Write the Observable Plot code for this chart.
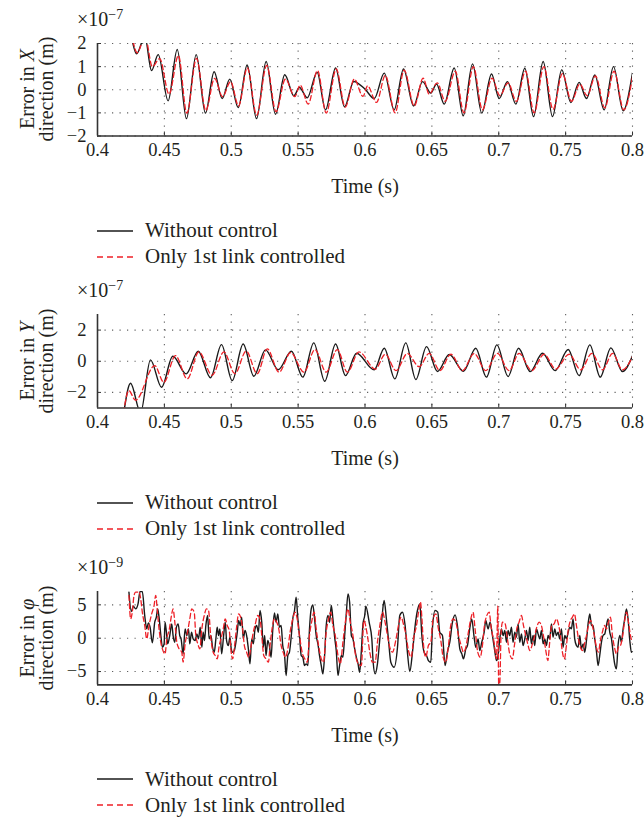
<!DOCTYPE html>
<html>
<head>
<meta charset="utf-8">
<script src="https://cdn.jsdelivr.net/npm/d3@7"></script>
<script src="https://cdn.jsdelivr.net/npm/@observablehq/plot@0.6"></script>
<style>
  html, body { margin: 0; padding: 0; background: #fff; }
  body { width: 644px; height: 822px; position: relative; overflow: hidden;
         font-family: "Liberation Serif", "DejaVu Serif", serif; color: #231f20; }
  .abs { position: absolute; }
  .ylab { position: absolute; width: 220px; text-align: center; font-size: 20px; line-height: 19px;
          transform: translate(-50%, -50%) rotate(-90deg); white-space: nowrap; }
  .expo { position: absolute; font-size: 20px; line-height: 20px; white-space: nowrap; }
  .expo sup { font-size: 14px; position: relative; top: -4px; vertical-align: top; }
  .leg { position: absolute; left: 97px; font-size: 21px; white-space: nowrap; }
  .leg .row { position: absolute; left: 0; height: 22px; display: flex; align-items: center; }
  .leg svg { margin-right: 12px; }
</style>
</head>
<body>
<script>
// ---------- data ----------
const xTicks = [0.4, 0.45, 0.5, 0.55, 0.6, 0.65, 0.7, 0.75, 0.8];
const seriesNames = ["Without control", "Only 1st link controlled"];

const yTicksX = [-2, -1, 0, 1, 2];
const yTicksY = [-2, 0, 2];
const yTicksPhi = [-5, 0, 5];

// Error in X direction (×1e-7 m): [time s, value]
const xWithout = [[0.4262,2.06],[0.4292,1.55],[0.4354,2.3],[0.4404,0.83],[0.4454,1.52],[0.4528,-0.48],[0.4596,1.74],[0.4665,-1.25],[0.4738,1.52],[0.4807,-1.01],[0.4872,0.78],[0.4932,-0.38],[0.4989,0.46],[0.5052,-0.77],[0.5119,1.07],[0.5189,-1.25],[0.5261,1.22],[0.5331,-1.06],[0.54,0.65],[0.5468,-0.26],[0.551,0.1],[0.5568,-0.35],[0.5642,0.75],[0.5705,-0.87],[0.578,0.94],[0.5847,-0.74],[0.5916,0.36],[0.5999,0.03],[0.6069,-0.38],[0.6144,0.72],[0.6218,-0.87],[0.6288,0.9],[0.6363,-0.7],[0.643,0.35],[0.6492,-0.14],[0.6535,0.25],[0.6592,-0.62],[0.6667,0.94],[0.6734,-1.13],[0.6804,1.12],[0.6873,-1.01],[0.6946,0.68],[0.7003,-0.38],[0.7065,0.35],[0.7128,-0.62],[0.7195,0.93],[0.726,-1.16],[0.7332,1.22],[0.7402,-1.16],[0.7471,0.86],[0.7539,-0.55],[0.7601,0.32],[0.7656,-0.38],[0.7718,0.64],[0.7788,-0.87],[0.7858,1.0],[0.793,-0.91],[0.8,0.73]];
const xControlled = [[0.4265,2.1],[0.4297,1.6],[0.4356,2.3],[0.441,1.0],[0.4465,1.35],[0.4535,-0.19],[0.4605,1.48],[0.4668,-1.01],[0.474,1.36],[0.481,-0.9],[0.4875,0.49],[0.4935,-0.3],[0.4995,0.35],[0.5055,-0.7],[0.512,0.95],[0.519,-1.1],[0.5265,1.05],[0.5335,-0.95],[0.5405,0.46],[0.5475,-0.3],[0.5515,0.2],[0.5575,-0.62],[0.5645,0.83],[0.571,-1.01],[0.5785,0.9],[0.5852,-0.75],[0.592,0.46],[0.5985,-0.29],[0.6019,0.17],[0.6086,-0.55],[0.6152,0.62],[0.6225,-1.0],[0.6293,0.85],[0.6368,-0.7],[0.6435,0.5],[0.648,-0.19],[0.654,0.3],[0.66,-0.5],[0.6675,0.8],[0.674,-1.0],[0.681,1.0],[0.6878,-0.87],[0.695,0.5],[0.7008,-0.25],[0.707,0.3],[0.7132,-0.5],[0.72,0.8],[0.7265,-1.0],[0.7337,1.0],[0.7406,-0.85],[0.7476,0.7],[0.7544,-0.5],[0.7606,0.25],[0.7661,-0.26],[0.7723,0.6],[0.7793,-0.78],[0.7862,0.8],[0.7935,-0.87],[0.8,0.55]];

// Error in Y direction (×1e-7 m)
const yWithout = [[0.4195,-3.4],[0.4247,-1.41],[0.4322,-3.3],[0.4396,0.09],[0.4479,-1.67],[0.4563,0.32],[0.4663,-0.81],[0.4753,0.64],[0.4845,-1.06],[0.4927,1.07],[0.5007,-1.24],[0.5089,1.11],[0.5169,-0.96],[0.5256,0.73],[0.5351,-0.55],[0.545,0.64],[0.5535,-1.02],[0.5617,1.18],[0.5699,-1.28],[0.578,1.11],[0.5854,-0.92],[0.5937,0.51],[0.6069,-0.55],[0.6144,0.83],[0.6223,-1.13],[0.6305,1.18],[0.638,-1.17],[0.646,0.94],[0.6542,-0.66],[0.663,0.43],[0.6736,-0.64],[0.6828,0.83],[0.6908,-1.02],[0.6986,1.05],[0.707,-0.98],[0.7148,0.83],[0.7235,-0.66],[0.7327,0.51],[0.7422,-0.6],[0.7519,0.75],[0.7601,-0.92],[0.7681,1.05],[0.7759,-1.02],[0.7838,0.86],[0.7925,-0.66],[0.8,0.35]];
const yControlled = [[0.4195,-3.3],[0.4234,-1.88],[0.4284,-2.5],[0.4428,-0.28],[0.4496,-1.35],[0.4583,0.36],[0.4671,-1.13],[0.4758,0.6],[0.4857,-0.9],[0.4945,0.6],[0.5027,-0.8],[0.5112,0.65],[0.5194,-0.8],[0.5269,0.8],[0.5357,-0.7],[0.5444,0.55],[0.5544,-0.7],[0.5626,0.75],[0.571,-0.7],[0.5793,0.75],[0.5868,-0.7],[0.5955,0.6],[0.6077,-0.5],[0.6152,0.45],[0.6232,-0.6],[0.6317,0.5],[0.6405,-0.35],[0.648,0.5],[0.656,-0.6],[0.6642,0.45],[0.6729,-0.6],[0.6816,0.5],[0.6903,-0.6],[0.699,0.5],[0.7077,-0.6],[0.7152,0.5],[0.7247,-0.6],[0.7339,0.45],[0.7426,-0.5],[0.7526,0.45],[0.7613,-0.55],[0.7696,0.5],[0.7776,-0.55],[0.7851,0.5],[0.7925,-0.55],[0.8,0.3]];

// Error in phi direction (×1e-9 m)
const phiWithout = [[0.4235,6.9],[0.4253,4.0],[0.4268,4.8],[0.4285,4.4],[0.4303,5.15],[0.4318,7.0],[0.4335,7.0],[0.4353,3.4],[0.4368,1.4],[0.438,2.3],[0.4393,1.65],[0.441,-0.7],[0.4428,2.4],[0.444,3.15],[0.445,4.4],[0.446,3.15],[0.4475,0.15],[0.4485,-1.35],[0.4498,-0.85],[0.4505,2.4],[0.4515,0.9],[0.4525,-0.85],[0.454,0.4],[0.4555,2.15],[0.4565,0.4],[0.4578,-0.6],[0.459,1.65],[0.4603,2.15],[0.4615,0.4],[0.4625,-0.1],[0.464,-2.35],[0.4655,1.4],[0.4668,0.4],[0.468,1.4],[0.469,-0.85],[0.4703,0.9],[0.4715,-0.1],[0.473,-0.35],[0.4743,0.65],[0.4755,-0.1],[0.4768,1.65],[0.478,-1.35],[0.479,0.9],[0.48,-0.35],[0.481,1.9],[0.4823,3.4],[0.4835,-0.1],[0.4848,0.4],[0.486,-1.35],[0.4873,-2.1],[0.4885,-0.1],[0.4895,1.65],[0.4905,0.4],[0.4915,1.4],[0.4928,-2.35],[0.4943,0.4],[0.4955,2.4],[0.4965,-0.35],[0.4978,-1.1],[0.499,0.15],[0.5,-1.6],[0.501,-2.1],[0.5023,-1.85],[0.5033,-0.85],[0.5045,0.9],[0.5055,2.65],[0.5068,1.9],[0.5078,3.15],[0.509,-0.1],[0.5103,1.15],[0.5115,0.4],[0.5128,-1.6],[0.514,-3.85],[0.5153,-0.1],[0.5165,-0.85],[0.5178,1.4],[0.519,1.9],[0.5203,0.9],[0.5215,4.15],[0.5228,2.4],[0.524,-1.35],[0.525,0.4],[0.526,-2.6],[0.5273,-0.35],[0.5285,-1.1],[0.5298,-2.85],[0.531,1.15],[0.5323,3.8],[0.5335,2.4],[0.5348,3.65],[0.536,1.65],[0.5373,1.9],[0.5385,-1.1],[0.5398,-2.35],[0.541,-5.6],[0.5423,-2.6],[0.5435,-2.1],[0.5448,0.15],[0.546,2.9],[0.5473,4.15],[0.5485,6.15],[0.5498,2.9],[0.551,0.4],[0.5523,-2.6],[0.5535,-2.85],[0.5548,-4.1],[0.556,-3.85],[0.5573,-4.1],[0.5585,1.4],[0.5598,4.4],[0.561,5.0],[0.5623,2.9],[0.5635,0.4],[0.5648,-0.85],[0.566,-2.6],[0.5673,-4.1],[0.5685,-5.35],[0.5698,-2.6],[0.571,1.9],[0.5723,3.4],[0.5735,2.4],[0.5748,4.9],[0.576,2.9],[0.5773,0.15],[0.5785,-1.85],[0.5798,-5.6],[0.581,-4.1],[0.5823,-2.6],[0.5835,-2.85],[0.5848,0.4],[0.586,3.65],[0.5873,6.65],[0.5885,5.4],[0.5898,0.4],[0.591,-0.1],[0.5923,-1.6],[0.5935,-2.85],[0.5948,-3.85],[0.596,-5.1],[0.5973,-1.85],[0.5985,2.15],[0.5998,3.4],[0.6006,4.8],[0.6031,2.4],[0.6051,-0.1],[0.6061,-3.6],[0.6076,-5.35],[0.6093,-3.85],[0.6111,-0.1],[0.6126,2.9],[0.6143,5.65],[0.616,2.9],[0.6175,-0.1],[0.6193,-3.6],[0.6218,-4.35],[0.6243,-1.35],[0.626,3.4],[0.628,3.9],[0.63,1.9],[0.6317,-2.1],[0.6335,-5.0],[0.6355,-2.1],[0.6375,1.9],[0.6392,4.15],[0.641,5.15],[0.6425,0.4],[0.6442,-2.1],[0.646,-2.6],[0.6474,-3.35],[0.6492,-3.6],[0.6504,1.4],[0.6524,4.15],[0.6544,3.9],[0.6559,0.9],[0.6579,0.4],[0.6599,-4.1],[0.6616,-2.1],[0.6634,-0.6],[0.6654,2.4],[0.6674,3.5],[0.6691,1.9],[0.6709,-1.6],[0.6724,-2.35],[0.6736,-3.1],[0.6754,-1.6],[0.6766,-1.1],[0.6783,1.4],[0.6798,2.9],[0.6816,0.15],[0.6828,-1.35],[0.6846,-0.1],[0.6858,-1.85],[0.6873,-0.6],[0.6891,0.9],[0.6903,2.65],[0.692,1.4],[0.6935,2.4],[0.6953,0.4],[0.697,-1.85],[0.6983,-3.35],[0.6995,-2.6],[0.7008,-0.1],[0.702,1.4],[0.7033,0.4],[0.7045,1.15],[0.7058,-0.6],[0.707,1.15],[0.7082,0.4],[0.7095,1.65],[0.7107,-0.6],[0.712,0.9],[0.7132,0.15],[0.7145,2.15],[0.7157,-0.6],[0.717,0.65],[0.7182,-1.1],[0.7195,-0.1],[0.7207,1.15],[0.722,-0.35],[0.7232,1.65],[0.7244,-0.85],[0.7257,0.4],[0.7269,-1.1],[0.7282,1.4],[0.7294,0.65],[0.7307,-0.1],[0.7319,1.15],[0.7332,-0.85],[0.7344,-0.1],[0.7357,-1.1],[0.7369,0.4],[0.7381,-0.1],[0.7394,2.15],[0.7406,0.15],[0.7419,1.4],[0.7431,0.4],[0.7444,0.9],[0.7456,-0.1],[0.7469,1.4],[0.7481,-1.35],[0.7494,0.4],[0.7506,-0.1],[0.7519,0.9],[0.7531,1.65],[0.7543,1.4],[0.7556,2.9],[0.7568,-0.1],[0.7581,-1.1],[0.7593,-1.35],[0.7606,0.4],[0.7618,-1.6],[0.7631,-0.85],[0.7643,-2.1],[0.7656,-0.35],[0.7668,2.15],[0.7681,3.65],[0.7693,1.9],[0.7705,1.9],[0.7718,-0.1],[0.773,-1.85],[0.7743,-4.1],[0.7755,-2.6],[0.7768,-0.6],[0.778,0.4],[0.7793,0.65],[0.7805,1.9],[0.7818,2.9],[0.783,0.9],[0.7843,-0.1],[0.7855,-2.1],[0.7867,-3.85],[0.788,-4.6],[0.7892,-1.1],[0.7905,0.4],[0.7917,-0.6],[0.793,1.4],[0.7942,2.9],[0.7955,4.4],[0.7967,2.9],[0.798,-0.35],[0.7992,-2.1],[0.8005,-1.85]];
const phiControlled = [[0.4235,6.4],[0.4248,2.9],[0.426,3.9],[0.4273,6.4],[0.4285,6.9],[0.4298,6.9],[0.431,7.0],[0.4323,5.9],[0.4335,3.9],[0.4353,1.9],[0.4368,-0.1],[0.4385,1.9],[0.4405,3.65],[0.4423,4.9],[0.4435,6.4],[0.4448,3.9],[0.446,1.4],[0.4473,-0.6],[0.4485,-1.6],[0.4505,-2.35],[0.4518,-0.1],[0.4535,1.15],[0.4553,3.4],[0.4565,4.4],[0.4578,2.4],[0.4593,-0.6],[0.461,-1.6],[0.463,-2.1],[0.464,-3.6],[0.4655,-0.85],[0.4673,0.9],[0.469,2.9],[0.4705,4.4],[0.4723,3.9],[0.4735,0.4],[0.475,-0.85],[0.4765,-1.6],[0.478,1.4],[0.4798,3.4],[0.4815,4.4],[0.483,4.15],[0.4848,-0.1],[0.4865,-2.1],[0.488,-2.6],[0.4895,-3.1],[0.491,-1.1],[0.4923,-0.1],[0.494,1.4],[0.4955,2.9],[0.497,1.9],[0.4985,1.15],[0.4998,-1.85],[0.501,-3.1],[0.5025,-1.1],[0.504,1.65],[0.5055,3.65],[0.507,3.15],[0.5085,1.4],[0.5098,-1.1],[0.5115,-2.1],[0.513,-2.85],[0.5145,-1.6],[0.516,0.4],[0.518,2.15],[0.5198,3.4],[0.5215,2.9],[0.5228,0.4],[0.5243,-2.6],[0.526,-3.1],[0.5278,-3.6],[0.529,-1.1],[0.5305,1.4],[0.5323,2.9],[0.534,2.4],[0.5355,1.4],[0.5373,-1.1],[0.5388,-2.1],[0.5405,-2.85],[0.5423,-1.6],[0.544,0.9],[0.546,2.9],[0.5478,3.9],[0.5493,2.9],[0.551,0.4],[0.553,-2.1],[0.555,-3.1],[0.5568,-3.6],[0.5585,0.4],[0.5603,2.65],[0.562,3.9],[0.5635,1.4],[0.5653,-1.1],[0.5673,-3.1],[0.569,-3.6],[0.571,0.9],[0.5728,2.9],[0.5743,3.9],[0.576,1.9],[0.5778,0.4],[0.5798,-2.6],[0.5815,-3.85],[0.5835,-0.6],[0.5853,2.4],[0.5873,4.4],[0.589,2.4],[0.591,0.4],[0.593,-2.6],[0.595,-3.85],[0.5973,-4.1],[0.5991,2.65],[0.6018,0.4],[0.6036,-2.1],[0.6056,-3.6],[0.6076,-3.6],[0.6093,-0.6],[0.6111,1.9],[0.6131,3.9],[0.6148,2.65],[0.6168,0.4],[0.6185,-1.35],[0.6205,-2.1],[0.623,-0.35],[0.625,1.9],[0.627,3.15],[0.629,1.9],[0.6305,0.65],[0.6325,-1.85],[0.6345,-2.85],[0.6365,0.15],[0.6385,1.9],[0.64,3.9],[0.6415,5.4],[0.6425,3.15],[0.6437,-0.85],[0.6454,-2.85],[0.6474,-1.1],[0.6492,-0.6],[0.6509,2.9],[0.6529,3.65],[0.6549,1.4],[0.6567,-0.35],[0.6584,-2.85],[0.6604,-3.6],[0.6624,-1.1],[0.6641,1.9],[0.6659,2.9],[0.6679,2.4],[0.6699,0.4],[0.6719,-1.1],[0.6736,-2.1],[0.6754,-1.35],[0.6773,0.9],[0.6791,2.9],[0.6808,3.9],[0.6823,1.4],[0.6843,-2.1],[0.6861,-2.85],[0.6878,-1.1],[0.6893,1.9],[0.6911,3.4],[0.6928,3.9],[0.6945,1.4],[0.6965,-0.6],[0.6983,-3.1],[0.6993,4.8],[0.7,-7.5],[0.7008,-6.6],[0.7018,0.9],[0.7028,2.4],[0.7048,2.15],[0.7065,-0.1],[0.7082,-2.35],[0.7102,-3.1],[0.7117,-1.1],[0.7135,1.4],[0.7152,2.4],[0.717,3.4],[0.7185,1.9],[0.7202,0.4],[0.7217,-0.85],[0.7232,-1.85],[0.7252,-0.85],[0.7269,0.4],[0.7284,1.65],[0.7302,2.4],[0.7319,1.9],[0.7334,0.4],[0.7352,-1.85],[0.7367,-3.35],[0.7381,-0.6],[0.7396,1.9],[0.7414,2.15],[0.7431,2.9],[0.7446,2.15],[0.7461,0.4],[0.7476,-2.1],[0.7491,-3.1],[0.7506,-1.1],[0.7521,1.4],[0.7536,2.65],[0.7551,3.15],[0.7566,3.65],[0.7581,1.9],[0.7596,-0.1],[0.7611,-1.35],[0.7626,-1.85],[0.7641,-0.85],[0.7656,0.4],[0.7671,1.9],[0.7686,2.65],[0.77,1.9],[0.7715,0.4],[0.773,-1.35],[0.7745,-2.1],[0.776,-0.35],[0.7775,0.9],[0.779,1.9],[0.7805,1.4],[0.782,2.4],[0.7835,3.15],[0.785,0.4],[0.7865,-1.35],[0.788,-2.35],[0.7895,-1.35],[0.791,-1.1],[0.7925,0.15],[0.794,2.4],[0.7955,3.9],[0.797,2.4],[0.7985,0.4],[0.8005,-0.85]];

// ---------- layout ----------
const FONT = '"Liberation Serif", "DejaVu Serif", serif';
const BLACK = "#1a1a1a", RED = "#ee2027";
const fmtY = d => d < 0 ? "\u2212" + Math.abs(d) : String(d);

const panels = [
  {sym: "X", exp: "−7", top: 43, plotH: 92.5, yDomain: [-2, 2], yTicks: yTicksX, a: xWithout, b: xControlled},
  {sym: "Y", exp: "−7", top: 314, plotH: 93.5, yDomain: [-3, 3], yTicks: yTicksY, a: yWithout, b: yControlled},
  {sym: "φ", exp: "−9", top: 591, plotH: 93.4, yDomain: [-7, 7], yTicks: yTicksPhi, a: phiWithout, b: phiControlled}
];

const MT = 20, MB = 70;

panels.forEach(p => {
  const svgTop = p.top - MT;
  const chart = Plot.plot({
    width: 644, height: MT + p.plotH + MB,
    marginLeft: 97, marginRight: 12, marginTop: MT, marginBottom: MB,
    x: {domain: [0.4, 0.8]},
    y: {domain: p.yDomain},
    style: {fontFamily: FONT, fontSize: "18px", color: "#231f20", background: "transparent", overflow: "visible"},
    marks: [
      Plot.gridX(xTicks.slice(1), {stroke: "#444", strokeOpacity: 0.85, strokeWidth: 1.1, strokeDasharray: "1.2,6.3"}),
      Plot.gridY(p.yTicks, {stroke: "#444", strokeOpacity: 0.85, strokeWidth: 1.1, strokeDasharray: "1.2,6.3"}),
      Plot.axisX({ticks: xTicks, tickFormat: d => String(d), tickSize: -4, tickPadding: 11, stroke: "#333",
                  label: null, fontSize: 18.5}),
      Plot.axisX({ticks: [], label: "Time (s)", labelAnchor: "center", labelArrow: "none", labelOffset: 57, fontSize: 20, tickSize: 0}),
      Plot.axisY({ticks: p.yTicks, tickFormat: fmtY, tickSize: -4, tickPadding: 15, stroke: "#333", label: null, fontSize: 18.5}),
      Plot.ruleX([0.4], {stroke: "#333", strokeWidth: 1.6}),
      Plot.ruleY([p.yDomain[0]], {stroke: "#333", strokeWidth: 1.6}),
      Plot.line(p.a, {x: d => d[0], y: d => d[1], stroke: BLACK, strokeWidth: 1.4, curve: "monotone-x", clip: true}),
      Plot.line(p.b, {x: d => d[0], y: d => d[1], stroke: RED, strokeWidth: 1.3, strokeDasharray: "5,3", curve: "monotone-x", clip: true})
    ]
  });
  const wrap = document.createElement("div");
  wrap.className = "abs";
  wrap.style.left = "0px";
  wrap.style.top = svgTop + "px";
  wrap.appendChild(chart);
  document.body.appendChild(wrap);

  // y label
  const yl = document.createElement("div");
  yl.className = "ylab";
  yl.style.left = "37px";
  yl.style.top = (p.top + p.plotH / 2) + "px";
  yl.innerHTML = `Error in <i>${p.sym}</i><br>direction (m)`;
  document.body.appendChild(yl);

  // exponent
  const ex = document.createElement("div");
  ex.className = "expo";
  ex.style.left = "77px";
  ex.style.top = (p.top - 34) + "px";
  ex.innerHTML = `×10<sup>${p.exp}</sup>`;
  document.body.appendChild(ex);

  // legend
  const lg = document.createElement("div");
  lg.className = "leg";
  const legTop = p.top + p.plotH + 95;
  lg.style.top = legTop + "px";
  const styles = [
    {stroke: BLACK, dash: null, w: 1.4},
    {stroke: RED, dash: "6,4", w: 1.3}
  ];
  seriesNames.forEach((name, i) => {
    const row = document.createElement("div");
    row.className = "row";
    row.style.top = (i * 26 - 11) + "px";
    const s = styles[i];
    row.innerHTML = `<svg width="36" height="4" style="overflow:visible"><line x1="0" x2="36" y1="2" y2="2" stroke="${s.stroke}" stroke-width="${s.w}" ${s.dash ? `stroke-dasharray="${s.dash}"` : ""}/></svg><span>${name}</span>`;
    lg.appendChild(row);
  });
  document.body.appendChild(lg);
});
</script>
</body>
</html>
